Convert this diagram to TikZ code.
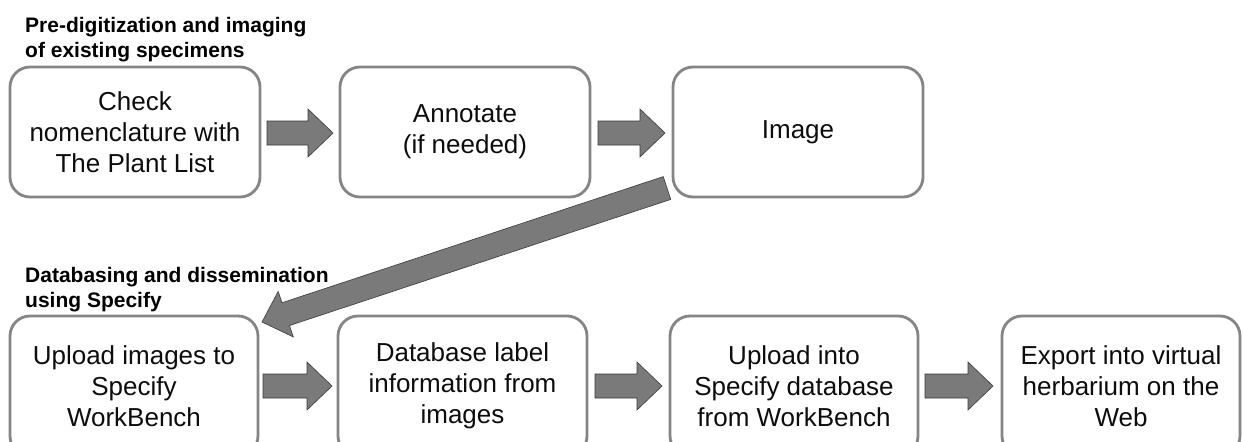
\documentclass[tikz,border=0pt]{standalone}
\usepackage{fontspec}
\setmainfont{Liberation Sans}
\usetikzlibrary{calc}
\definecolor{boxline}{HTML}{858585}
\definecolor{arrfill}{HTML}{7A7A7A}
\definecolor{arrline}{HTML}{3A3A3A}
\tikzset{
  procbox/.style={draw=boxline, line width=2.8pt, rounded corners=20pt, align=center,
    font=\fontsize{26}{31}\selectfont, text=black!95, inner sep=0pt, outer sep=0pt, fill=white},
  topbox/.style={procbox, minimum width=250pt, minimum height=130pt},
  botbox/.style={procbox, minimum height=140pt},
  header/.style={anchor=base west, align=left, inner sep=0pt, font=\bfseries\fontsize{21}{25}\selectfont},
  blockarr/.style={fill=arrfill, draw=arrline, line width=0.6pt, line join=miter}
}
\newcommand\blockarrow[2]{% #1 tail, #2 tip
  \path coordinate (ba-h) at ($(#2)!25pt!(#1)$);
  \filldraw[blockarr] (#2) -- ($(ba-h)!24pt!90:(#1)$) -- ($(ba-h)!12pt!90:(#1)$)
    -- ($(#1)!12pt!-90:(#2)$) -- ($(#1)!12pt!90:(#2)$)
    -- ($(ba-h)!12pt!-90:(#1)$) -- ($(ba-h)!24pt!-90:(#1)$) -- cycle;}
\begin{document}
\begin{tikzpicture}[x=1pt, y=-1pt]
\useasboundingbox (0,0) rectangle (1243,442);
\fill[white] (0,0) rectangle (1243,442);
\clip (0,0) rectangle (1243,442);

% headers (base anchor = last line)
\node[header] (h1) at (25,57) {Pre-digitization and imaging\\of existing specimens};
\node[header] (h2) at (25,307) {Databasing and dissemination\\using Specify};

% top row
\node[topbox] (t1) at (135,132) {Check\\nomenclature with\\The Plant List};
\node[topbox] (t2) at (465,132) {Annotate\\(if needed)};
\node[topbox] (t3) at (798,132) {Image};

% bottom row
\node[botbox, minimum width=248pt] (b1) at (134,386) {Upload images to\\Specify\\WorkBench};
\node[botbox, minimum width=249pt] (b2) at (462.5,386) {Database label\\information from\\images};
\node[botbox, minimum width=248pt] (b3) at (794,386) {Upload into\\Specify database\\from WorkBench};
\node[botbox, minimum width=238pt] (b4) at (1121,386) {Export into virtual\\herbarium on the\\Web};

% connector end points
\coordinate (a1s) at ($(t1.east)+(7,1)$);
\coordinate (a1e) at ($(t2.west)+(-7,1)$);
\coordinate (a2s) at ($(t2.east)+(8,1)$);
\coordinate (a2e) at ($(t3.west)+(-8,1)$);
\coordinate (dgs) at ($(t3.south west)+(-6,-9)$);
\coordinate (dge) at ($(b1.north east)+(4,6)$);
\coordinate (a3s) at ($(b1.east)+(5,0)$);
\coordinate (a3e) at ($(b2.west)+(-6,0)$);
\coordinate (a4s) at ($(b2.east)+(8,0)$);
\coordinate (a4e) at ($(b3.west)+(-8,0)$);
\coordinate (a5s) at ($(b3.east)+(7,0)$);
\coordinate (a5e) at ($(b4.west)+(-9,0)$);

\blockarrow{a1s}{a1e}
\blockarrow{a2s}{a2e}
\blockarrow{dgs}{dge}
\blockarrow{a3s}{a3e}
\blockarrow{a4s}{a4e}
\blockarrow{a5s}{a5e}
\end{tikzpicture}
\end{document}
